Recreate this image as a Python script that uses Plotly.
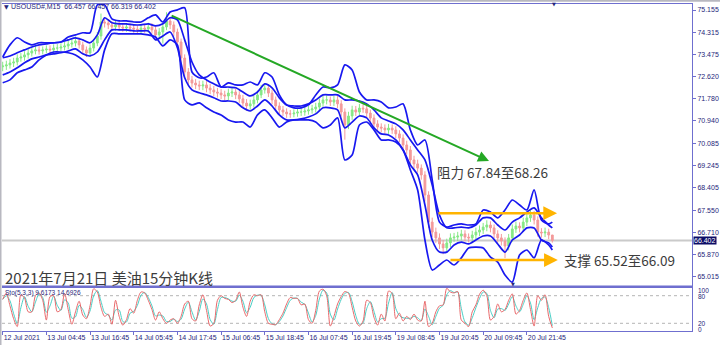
import plotly.graph_objects as go

# ---------------- data (hourly samples of the 15-min chart) ----------------
opens = [73.00,73.03,73.07,73.14,73.18,73.33,73.37,73.45,73.52,73.60,
         73.64,73.60,73.64,73.67,73.64,73.71,73.71,73.75,73.79,73.86,
         73.90,73.98,73.83,73.64,73.52,73.71,73.90,74.17,74.70,74.66,
         74.59,74.51,74.59,74.51,74.47,74.51,74.47,74.43,74.40,74.47,
         74.43,74.51,74.40,74.21,74.32,74.51,74.74,74.59,74.32,73.94,
         73.33,72.80,72.50,72.38,72.31,72.27,72.31,72.19,72.12,72.04,
         72.00,71.93,71.89,72.00,72.04,71.93,71.78,71.62,71.51,71.59,
         71.74,71.93,72.12,72.19,72.00,71.74,71.51,71.36,71.28,71.21,
         71.21,71.24,71.28,71.28,71.32,71.36,71.40,71.47,71.62,71.74,
         71.74,71.66,71.74,71.59,71.28,70.79,71.13,71.36,71.28,71.43,
         71.40,71.24,71.05,70.83,70.71,70.67,70.60,70.67,70.60,70.45,
         70.29,70.03,69.84,69.46,69.31,69.15,68.89,68.13,67.10,66.72,
         66.50,66.27,66.12,66.31,66.50,66.53,66.57,66.65,66.53,66.50,
         66.61,66.72,66.80,66.91,66.99,66.88,66.65,66.50,66.38,66.19,
         66.50,66.84,66.95,66.88,67.10,67.26,67.37,67.18,66.72,66.69,
         66.72,66.61]
closes = [73.03,73.07,73.14,73.18,73.33,73.37,73.45,73.52,73.60,73.64,
          73.60,73.64,73.67,73.64,73.71,73.71,73.75,73.79,73.86,73.90,
          73.98,73.83,73.64,73.52,73.71,73.90,74.17,74.70,74.66,74.59,
          74.51,74.59,74.51,74.47,74.51,74.47,74.43,74.40,74.47,74.43,
          74.51,74.40,74.21,74.32,74.51,74.74,74.59,74.32,73.94,73.33,
          72.80,72.50,72.38,72.31,72.27,72.31,72.19,72.12,72.04,72.00,
          71.93,71.89,72.00,72.04,71.93,71.78,71.62,71.51,71.59,71.74,
          71.93,72.12,72.19,72.00,71.74,71.51,71.36,71.28,71.21,71.21,
          71.24,71.28,71.28,71.32,71.36,71.40,71.47,71.62,71.74,71.74,
          71.66,71.74,71.59,71.28,70.79,71.13,71.36,71.28,71.43,71.40,
          71.24,71.05,70.83,70.71,70.67,70.60,70.67,70.60,70.45,70.29,
          70.03,69.84,69.46,69.31,69.15,68.89,68.13,67.10,66.72,66.50,
          66.27,66.12,66.31,66.50,66.53,66.57,66.65,66.53,66.50,66.61,
          66.72,66.80,66.91,66.99,66.88,66.65,66.50,66.38,66.19,66.50,
          66.84,66.95,66.88,67.10,67.26,67.37,67.18,66.72,66.69,66.72,
          66.61,66.40]
highs = [73.19,73.23,73.29,73.34,73.47,73.52,73.59,73.67,73.75,73.79,
         73.78,73.77,73.81,73.81,73.85,73.86,73.89,73.94,74.01,74.05,
         74.15,74.11,73.95,73.77,73.85,74.05,74.32,75.02,74.87,74.81,
         74.73,74.74,74.73,74.65,74.65,74.65,74.61,74.57,74.62,74.61,
         74.67,74.65,74.53,74.47,74.67,75.07,74.89,74.72,74.45,74.07,
         73.47,72.95,72.65,72.53,72.47,72.47,72.45,72.35,72.27,72.19,
         72.15,72.09,72.17,72.21,72.17,72.07,71.93,71.77,71.75,71.91,
         72.09,72.31,72.37,72.33,72.13,71.87,71.65,71.51,71.42,71.36,
         71.38,71.43,71.43,71.47,71.51,71.55,71.63,71.79,71.91,71.91,
         71.87,71.89,71.89,71.73,71.42,71.29,71.52,71.51,71.59,71.57,
         71.54,71.37,71.19,70.97,70.85,70.81,70.83,70.81,70.74,70.59,
         70.43,70.19,69.99,69.62,69.47,69.29,69.03,68.27,67.27,66.89,
         66.67,66.42,66.47,66.67,66.69,66.73,66.81,66.79,66.67,66.77,
         66.89,66.97,67.07,67.17,67.13,67.01,66.79,66.65,66.52,66.65,
         67.01,67.12,67.09,67.27,67.43,67.55,67.52,67.32,66.87,66.89,
         66.85,66.46]
lows = [72.83,72.88,72.93,72.99,73.05,73.19,73.23,73.31,73.39,73.47,
        73.46,73.47,73.51,73.50,73.51,73.56,73.58,73.62,73.66,73.73,
        73.77,73.69,73.48,73.37,73.39,73.58,73.78,74.03,74.49,74.43,
        74.36,74.37,74.37,74.33,74.33,74.33,74.29,74.26,74.26,74.29,
        74.30,74.26,74.05,74.07,73.88,74.39,74.43,74.15,73.73,73.13,
        72.58,72.33,72.21,72.15,72.11,72.11,72.03,71.96,71.88,71.83,
        71.77,71.71,71.73,71.85,71.77,71.63,71.45,71.33,71.37,71.45,
        71.61,71.81,71.98,71.85,71.58,71.35,71.21,71.13,71.06,71.06,
        71.08,71.10,71.13,71.14,71.18,71.22,71.26,71.33,71.48,71.57,
        71.51,71.51,71.43,71.11,70.23,70.63,70.98,71.13,71.15,71.25,
        71.08,70.89,70.67,70.55,70.51,70.45,70.45,70.45,70.29,70.13,
        69.86,69.67,69.29,69.13,68.98,68.71,67.88,66.88,66.53,66.31,
        66.08,65.88,65.95,66.15,66.35,66.38,66.41,66.37,66.33,66.35,
        66.45,66.57,66.65,66.75,66.71,66.48,66.33,66.21,65.73,66.03,
        66.35,66.69,66.71,66.73,66.95,67.11,67.01,66.55,66.51,66.53,
        66.45,66.32]

# band lines sampled every 2 hours (+ last bar)
band_hours = list(range(0, 151, 2)) + [151]
outer_upper = [73.37,73.83,74.10,73.94,73.83,73.91,73.91,73.91,73.94,74.13,
               74.21,74.29,74.29,75.35,75.35,74.82,74.74,74.74,74.70,74.70,
               74.86,74.97,74.70,75.08,75.16,75.24,72.80,72.58,72.61,72.77,
               72.23,72.39,72.31,72.31,72.42,72.31,72.77,72.61,71.93,71.55,
               71.44,71.44,71.55,71.93,72.23,72.20,72.31,73.07,72.88,72.04,
               71.74,71.74,71.66,71.44,71.47,71.59,70.60,70.03,70.22,68.70,
               67.10,66.91,66.99,67.03,66.99,67.03,67.56,67.48,67.26,67.56,
               67.94,67.75,67.56,68.32,67.18,67.03,67.10]
inner_upper = [73.34,73.41,73.53,73.64,73.75,73.83,73.87,73.91,73.94,74.02,
               74.10,74.02,73.91,74.21,74.86,74.67,74.63,74.63,74.59,74.59,
               74.63,74.55,74.63,74.86,74.78,74.02,73.18,72.69,72.50,72.35,
               72.23,72.23,72.20,72.04,71.89,72.04,72.35,72.20,71.82,71.55,
               71.51,71.51,71.59,71.74,71.93,71.93,71.93,71.74,71.74,71.70,
               71.59,71.36,71.06,70.94,70.83,70.60,70.22,69.84,69.46,68.51,
               67.37,66.88,66.88,66.91,66.88,66.99,67.26,67.26,66.99,66.80,
               67.10,67.26,67.48,67.64,67.26,66.99,66.88]
inner_lower = [72.69,72.80,72.96,73.15,73.30,73.37,73.45,73.49,73.53,73.60,
               73.68,73.49,73.41,73.56,74.02,74.40,74.40,74.40,74.36,74.36,
               74.36,74.02,74.17,74.32,73.72,72.58,72.12,72.01,71.93,71.82,
               71.70,71.70,71.66,71.44,71.32,71.51,71.74,71.51,71.17,70.98,
               70.98,71.02,71.09,71.21,71.44,71.44,71.36,70.68,70.90,71.13,
               71.06,70.68,70.45,70.41,70.22,69.84,69.27,68.89,67.75,66.42,
               65.96,65.96,66.23,66.34,66.27,66.42,66.57,66.57,66.27,65.96,
               66.42,66.61,66.88,66.88,66.42,66.31,66.15]
outer_lower = [72.39,72.50,72.77,72.88,72.99,73.26,73.45,73.56,73.56,73.53,
               73.45,73.26,72.99,72.61,73.64,74.25,74.25,74.25,74.25,74.25,
               74.21,74.13,73.79,74.02,73.83,71.74,71.55,71.63,71.44,71.28,
               71.17,70.98,70.90,70.90,70.71,71.17,71.36,71.06,70.71,70.90,
               70.98,70.98,70.98,70.90,70.68,70.79,71.06,69.46,69.65,70.79,
               70.90,70.60,70.22,70.22,70.14,69.84,69.08,68.32,66.42,65.28,
               65.47,65.66,65.47,65.74,66.12,66.15,66.12,65.77,65.58,65.09,
               64.82,65.85,66.04,65.74,66.42,66.23,66.04]

# stochastic (5,3,3)
stoch_main = [72,85,58,30,13,82,75,45,45,80,
              86,70,27,78,80,45,50,85,50,18,
              45,68,38,30,58,95,88,55,35,40,
              18,70,35,16,28,52,42,70,88,86,
              70,50,27,45,30,20,27,30,20,35,
              62,68,30,25,60,82,48,14,20,70,
              80,74,72,65,70,88,55,35,68,82,
              80,82,45,20,18,17,28,42,62,76,
              74,74,60,62,28,20,48,90,94,80,
              14,35,62,78,89,85,55,25,14,25,
              70,65,33,16,40,25,90,85,30,42,
              25,35,28,40,27,25,68,13,20,45,
              58,60,96,88,86,89,27,20,13,45,
              60,83,92,80,27,35,62,45,50,70,
              84,40,48,70,86,50,14,80,70,82,
              35,10]
stoch_signal = [72,80,69,41,20,54,78,57,45,66,
                84,76,44,58,79,59,48,71,64,31,
                34,59,50,33,47,80,91,68,43,38,
                27,49,49,24,23,42,46,59,81,87,
                76,58,36,38,36,24,24,29,24,29,
                51,66,45,27,46,73,62,28,18,50,
                76,76,73,68,68,81,68,43,55,76,
                81,81,60,30,19,17,24,36,54,70,
                75,74,66,61,42,23,37,73,92,86,
                40,27,51,72,85,87,67,37,18,21,
                52,67,46,23,30,31,64,87,52,37,
                32,31,31,35,32,26,51,35,17,35,
                53,59,82,91,87,88,52,23,16,32,
                54,74,88,85,48,32,51,52,48,62,
                78,58,45,61,80,64,28,54,74,77,
                54,15]

price_ticks = [75.155, 74.315, 73.475, 72.620, 71.780, 70.940, 70.085,
               69.245, 68.405, 67.550, 66.710, 65.870, 65.015]
time_tick_hours = [0, 12, 24, 36, 48, 60, 72, 84, 96, 108, 120, 132, 144]
time_tick_labels = ["12 Jul 2021", "13 Jul 04:45", "13 Jul 16:45", "14 Jul 05:45",
                    "14 Jul 17:45", "15 Jul 06:45", "15 Jul 18:45", "16 Jul 07:45",
                    "16 Jul 19:45", "19 Jul 08:45", "19 Jul 20:45", "20 Jul 09:45",
                    "20 Jul 21:45"]
last_price = 66.402
trend_from = (46.0, 74.97)
trend_to = (133.6, 69.42)
resist_arrow = (119.3, 152.3, 67.44)
support_arrow = (122.6, 152.5, 65.66)

# ---------------- styling ----------------
NAVY = "#26267a"
AXIS = "#6f6fcf"
BLUE = "#1818f0"
UP = "#86e886"
DN = "#f39a9a"
SMALL = "Liberation Sans Narrow, Arial Narrow, Liberation Sans, Arial"
CJK = "Noto Sans CJK SC"

hours = list(range(len(closes)))

fig = go.Figure()
fig.add_trace(go.Candlestick(
    x=hours, open=opens, high=highs, low=lows, close=closes,
    increasing=dict(line=dict(color=UP, width=1), fillcolor=UP),
    decreasing=dict(line=dict(color=DN, width=1), fillcolor=DN),
    whiskerwidth=0, xaxis="x", yaxis="y", showlegend=False, hoverinfo="skip"))

for band in (outer_upper, inner_upper, inner_lower, outer_lower):
    fig.add_trace(go.Scatter(x=band_hours, y=band, mode="lines",
                             line=dict(color=BLUE, width=1.7, shape="spline", smoothing=0.7),
                             xaxis="x", yaxis="y", showlegend=False, hoverinfo="skip"))

fig.add_trace(go.Scatter(x=hours, y=stoch_signal, mode="lines",
                         line=dict(color="#49cfc6", width=1, shape="spline", smoothing=0.8),
                         xaxis="x2", yaxis="y2", showlegend=False, hoverinfo="skip"))
fig.add_trace(go.Scatter(x=hours, y=stoch_main, mode="lines",
                         line=dict(color="#e9696b", width=1, shape="spline", smoothing=0.8),
                         xaxis="x2", yaxis="y2", showlegend=False, hoverinfo="skip"))

# pixel helpers for layout placement (plot area: x 2..692, y 4..331)
def pxx(p):
    return (p - 2) / 690.0

def pxy(p):
    return (331 - p) / 327.0

xr = [-0.19, 189.37]
fig.update_layout(
    width=720, height=345, margin=dict(l=2, r=28, t=4, b=14),
    paper_bgcolor="white", plot_bgcolor="white", showlegend=False,
    xaxis=dict(domain=[0, 1], range=xr, anchor="y", showticklabels=False, ticks="",
               showgrid=False, zeroline=False, showline=True, linecolor=AXIS, linewidth=1,
               mirror=True, rangeslider=dict(visible=False)),
    yaxis=dict(domain=[pxy(287), 1], range=[64.635, 75.383], side="right", anchor="x",
               tickvals=price_ticks, ticktext=["%.3f" % v for v in price_ticks],
               ticks="outside", ticklen=3, tickcolor=AXIS,
               tickfont=dict(size=7, color=NAVY, family=SMALL),
               showgrid=False, zeroline=False, showline=True, linecolor=AXIS, linewidth=1),
    xaxis2=dict(domain=[0, 1], range=xr, anchor="y2", matches="x",
                tickvals=time_tick_hours, ticktext=time_tick_labels, tickangle=0,
                ticks="outside", ticklen=3, tickcolor=AXIS, ticklabelposition="outside right",
                tickfont=dict(size=7, color=NAVY, family=SMALL),
                showgrid=False, zeroline=False, showline=True, linecolor=AXIS, linewidth=1),
    yaxis2=dict(domain=[0, pxy(288)], range=[3.3, 96.7], side="right", anchor="x2",
                showticklabels=False, ticks="", showgrid=False, zeroline=False,
                showline=True, linecolor=AXIS, linewidth=1),
)

shapes = [
    dict(type="line", xref="paper", yref="y", x0=0, x1=1, y0=last_price, y1=last_price,
         line=dict(color="#cacaca", width=2), layer="below"),
    dict(type="line", xref="paper", yref="y2", x0=0, x1=1, y0=80, y1=80,
         line=dict(color="#b4b4b4", width=1, dash="dot"), layer="below"),
    dict(type="line", xref="paper", yref="y2", x0=0, x1=1, y0=20, y1=20,
         line=dict(color="#b4b4b4", width=1, dash="dot"), layer="below"),
    dict(type="line", xref="paper", yref="paper", x0=0, x1=1, y0=pxy(286.5), y1=pxy(286.5),
         line=dict(color=AXIS, width=2)),
    dict(type="rect", xref="paper", yref="paper", x0=pxx(0), x1=pxx(1.5), y0=pxy(345), y1=pxy(0),
         line=dict(width=0), fillcolor="#b8b8c0"),
    dict(type="rect", xref="paper", yref="paper", x0=pxx(0), x1=pxx(720), y0=pxy(1.8), y1=pxy(0),
         line=dict(width=0), fillcolor="#b8b8c0"),
]
fig.update_layout(shapes=shapes)

ann = []
# trend line and horizontal arrows
ann.append(dict(x=trend_to[0], y=trend_to[1], ax=trend_from[0], ay=trend_from[1],
                xref="x", yref="y", axref="x", ayref="y", text="", showarrow=True,
                arrowhead=2, arrowsize=1.1, arrowwidth=2, arrowcolor="#25a825"))
for (x0, x1, yv) in (resist_arrow, support_arrow):
    ann.append(dict(x=x1, y=yv, ax=x0, ay=yv, xref="x", yref="y", axref="x", ayref="y",
                    text="", showarrow=True, arrowhead=2, arrowsize=1.1, arrowwidth=2.5,
                    arrowcolor="#ffb400"))
# big texts
ann.append(dict(x=118.8, y=69.0, xref="x", yref="y", xanchor="left", yanchor="middle",
                text="阻力 67.84至68.26", showarrow=False,
                font=dict(family=CJK, size=13.5, color="#3c3c3c")))
ann.append(dict(x=153.7, y=65.66, xref="x", yref="y", xanchor="left", yanchor="middle",
                text="支撑 65.52至66.09", showarrow=False,
                font=dict(family=CJK, size=13.5, color="#3c3c3c")))
ann.append(dict(x=pxx(3), y=pxy(277), xref="paper", yref="paper", xanchor="left", yanchor="middle",
                text="2021年7月21日 美油15分钟K线", showarrow=False,
                font=dict(family=CJK, size=15, color="#3c3c3c")))
# small MT4 labels
ann.append(dict(x=pxx(2), y=pxy(6.5), xref="paper", yref="paper", xanchor="left", yanchor="middle",
                text="▼", showarrow=False, font=dict(family="DejaVu Sans", size=6, color=NAVY)))
ann.append(dict(x=pxx(9), y=pxy(6.5), xref="paper", yref="paper", xanchor="left", yanchor="middle",
                text="USOUSD#,M15  66.457 66.457 66.319 66.402", showarrow=False,
                font=dict(family=SMALL, size=7, color=NAVY)))
ann.append(dict(x=pxx(550), y=pxy(3.5), xref="paper", yref="paper", xanchor="left", yanchor="middle",
                text="▼", showarrow=False, font=dict(family="DejaVu Sans", size=5, color=NAVY)))
ann.append(dict(x=pxx(509), y=pxy(283.5), xref="paper", yref="paper", xanchor="left", yanchor="middle",
                text="▼", showarrow=False, font=dict(family="DejaVu Sans", size=5, color=NAVY)))
ann.append(dict(x=pxx(3), y=pxy(292.5), xref="paper", yref="paper", xanchor="left", yanchor="middle",
                text="Sto(5,3,3) 9.6173 14.6926", showarrow=False,
                font=dict(family=SMALL, size=6.5, color=NAVY)))
for lbl, yp in (("100", 290.5), ("80", 296.5), ("20", 323), ("0", 329)):
    ann.append(dict(x=pxx(696), y=pxy(yp), xref="paper", yref="paper", xanchor="left",
                    yanchor="middle", text=lbl, showarrow=False,
                    font=dict(family=SMALL, size=6.5, color=NAVY)))
ann.append(dict(x=1, y=last_price, xref="paper", yref="y", xanchor="left", yanchor="middle",
                xshift=1, text="%.3f" % last_price, showarrow=False, bgcolor="#0c0c66",
                borderpad=0, font=dict(family=SMALL, size=7, color="white")))
fig.update_layout(annotations=ann)

fig.write_html("out.html")
